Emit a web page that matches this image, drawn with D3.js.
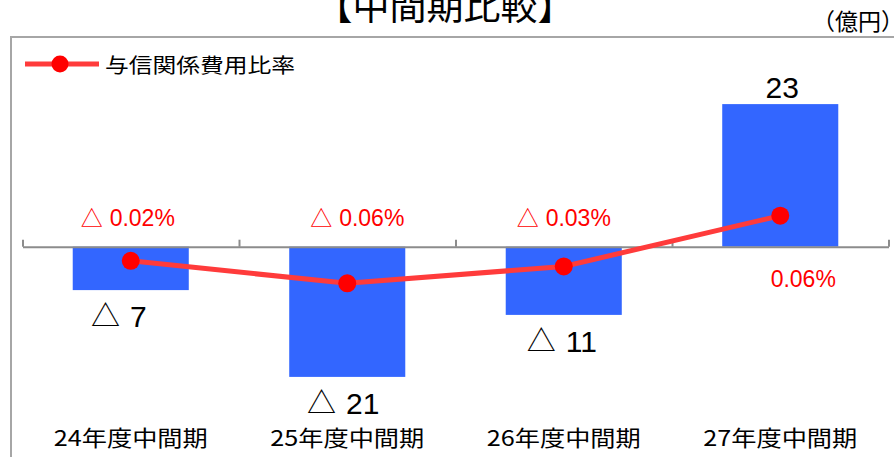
<!DOCTYPE html>
<html>
<head>
<meta charset="utf-8">
<script src="https://cdn.jsdelivr.net/npm/d3@7"></script>
<style>
  body { margin: 0; background: #fff; }
  text { font-family: "Noto Sans CJK JP", "Noto Sans", sans-serif; }
  .num { font-family: "Liberation Sans", Arial, sans-serif; }
  .tri { font-family: "Noto Sans CJK JP", sans-serif; }
</style>
</head>
<body>
<svg id="chart" width="894" height="457"></svg>
<script>
// données
const categories = ["24年度中間期", "25年度中間期", "26年度中間期", "27年度中間期"];
const amounts = [-7, -21, -11, 23];             // 億円
const ratios = [-0.02, -0.06, -0.03, 0.06];     // %
const amountLabels = ["△ 7", "△ 21", "△ 11", "23"];
const ratioLabels = ["△ 0.02%", "△ 0.06%", "△ 0.03%", "0.06%"];
const seriesName = "与信関係費用比率";

const svg = d3.select("#chart");

const x = d3.scaleBand().domain(categories).range([22.5, 888.5]).padding(0);
const xEdge = d3.scaleLinear().domain([0, categories.length]).range([22.5, 888.5]);
const y = d3.scaleLinear().domain([-30, 30]).range([432.7, 60.7]);
const y2 = d3.scaleLinear().domain([-0.325, 0.335]).range([432.7, 60.7]);

const barW = x.bandwidth() * 0.536;
const cx = (c) => x(c) + x.bandwidth() / 2;

// "△ 7" -> triangle en police CJK, nombre en Liberation Sans
function labelParts(sel, gap, triSize) {
  sel.each(function (s) {
    const t = d3.select(this);
    const neg = s.startsWith("△");
    if (neg) {
      t.append("tspan").attr("class", "tri").style("font-size", triSize + "px").text("△");
      t.append("tspan").attr("class", "num").attr("dx", gap).text(s.replace("△", "").trim());
    } else {
      t.append("tspan").attr("class", "num").text(s);
    }
  });
}

// cadre
svg.append("path")
  .attr("d", "M11,457 V37 H894")
  .attr("fill", "none")
  .attr("stroke", "#a6a6a6")
  .attr("stroke-width", 2);

// titre
svg.append("text")
  .attr("x", 445).attr("y", 20)
  .attr("text-anchor", "middle")
  .style("font-size", "37px")
  .text("【中間期比較】");

svg.append("text")
  .attr("x", 904).attr("y", 30)
  .attr("text-anchor", "end")
  .style("font-size", "23px")
  .text("（億円）");

// barres
svg.selectAll(".bar")
  .data(amounts)
  .enter()
  .append("rect")
  .attr("class", "bar")
  .attr("x", (d, i) => cx(categories[i]) - barW / 2)
  .attr("width", barW)
  .attr("y", (d) => y(Math.max(0, d)))
  .attr("height", (d) => Math.abs(y(d) - y(0)))
  .style("fill", "#3366ff");

// axe horizontal
const axis = svg.append("g")
  .attr("transform", `translate(0,${y(0)})`)
  .call(d3.axisTop(xEdge).ticks(categories.length).tickSize(7).tickSizeOuter(0).tickFormat(""));
axis.select(".domain").attr("stroke", "#8c8c8c").attr("stroke-width", 2);
axis.selectAll(".tick line").attr("stroke", "#8c8c8c").attr("stroke-width", 2);

// étiquettes des montants
const amountDx = [-12, -4, -2, 2];
svg.selectAll(".amountLabel")
  .data(amountLabels)
  .enter()
  .append("text")
  .attr("class", "amountLabel")
  .attr("x", (d, i) => cx(categories[i]) + amountDx[i])
  .attr("y", (d, i) => amounts[i] < 0 ? y(amounts[i]) + 37 : y(amounts[i]) - 6)
  .attr("text-anchor", "middle")
  .style("font-size", "30px")
  .call(labelParts, 10, 29);

// ligne du ratio
const line = d3.line()
  .x((d, i) => cx(categories[i]))
  .y((d) => y2(d));

svg.append("path")
  .datum(ratios)
  .attr("d", line)
  .attr("fill", "none")
  .attr("stroke", "#ff3b3b")
  .attr("stroke-width", 5);

svg.selectAll(".dot")
  .data(ratios)
  .enter()
  .append("circle")
  .attr("class", "dot")
  .attr("cx", (d, i) => cx(categories[i]))
  .attr("cy", (d) => y2(d))
  .attr("r", 9)
  .style("fill", "#ff0000");

const ratioDx = [-3, 10, 0, 23];
svg.selectAll(".ratioLabel")
  .data(ratioLabels)
  .enter()
  .append("text")
  .attr("class", "ratioLabel")
  .attr("x", (d, i) => cx(categories[i]) + ratioDx[i])
  .attr("y", (d, i) => ratios[i] < 0 ? y(0) - 21 : y(0) + 40)
  .attr("text-anchor", "middle")
  .style("font-size", "23px")
  .style("fill", "#ff0000")
  .call(labelParts, 7, 22);

// catégories
svg.selectAll(".catLabel")
  .data(categories)
  .enter()
  .append("text")
  .attr("class", "catLabel")
  .attr("x", (d) => cx(d))
  .attr("y", 446)
  .attr("text-anchor", "middle")
  .attr("textLength", 154)
  .attr("lengthAdjust", "spacingAndGlyphs")
  .style("font-size", "22px")
  .text((d) => d);

// légende
svg.append("line")
  .attr("x1", 25).attr("x2", 99)
  .attr("y1", 64).attr("y2", 64)
  .attr("stroke", "#ff3b3b")
  .attr("stroke-width", 5);
svg.append("circle")
  .attr("cx", 60).attr("cy", 64).attr("r", 8.5)
  .style("fill", "#ff0000");
svg.append("text")
  .attr("x", 105).attr("y", 73)
  .attr("textLength", 190)
  .attr("lengthAdjust", "spacingAndGlyphs")
  .style("font-size", "20px")
  .text(seriesName);
</script>
</body>
</html>
